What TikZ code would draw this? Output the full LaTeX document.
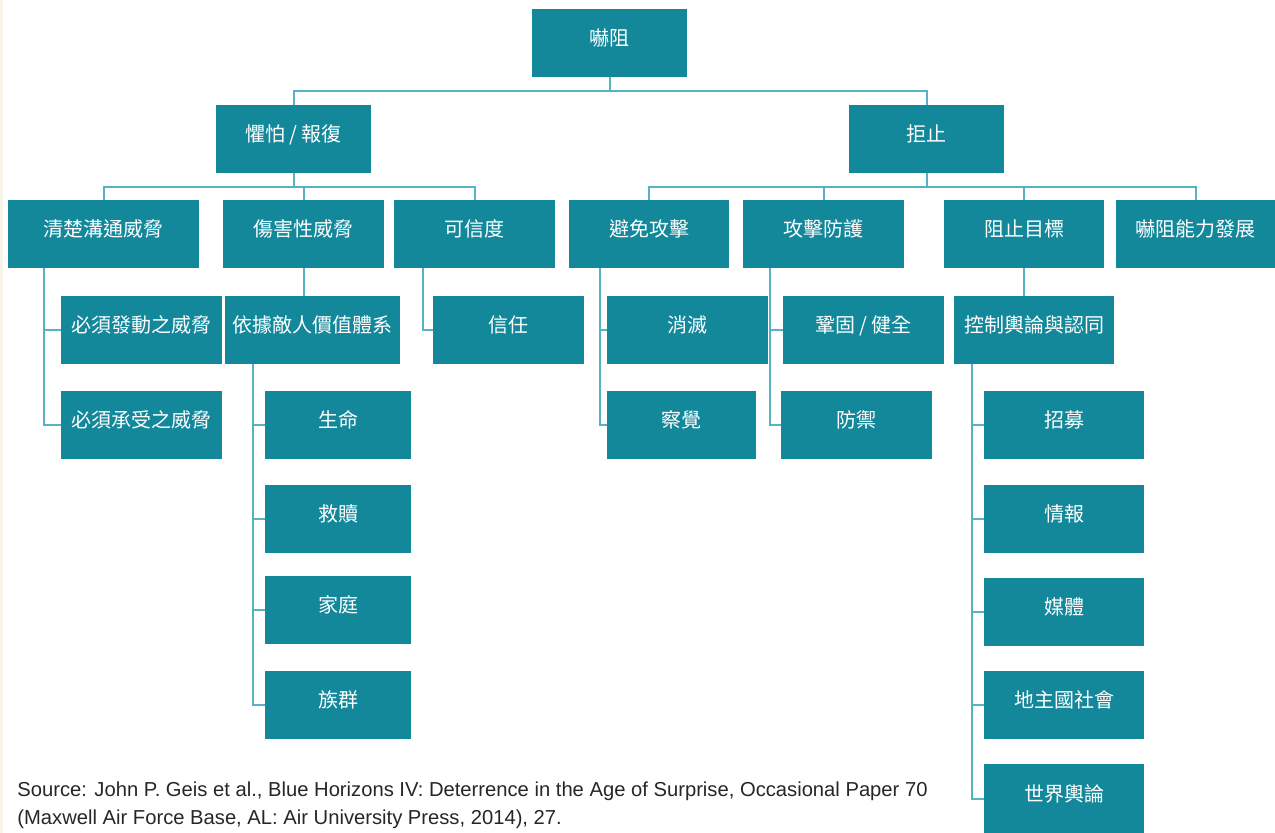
\documentclass[tikz,border=0pt]{standalone}
\usepackage{fontspec}
\setmainfont{Noto Sans CJK TC}
\newfontfamily\srcfont{Liberation Sans}
\definecolor{boxteal}{HTML}{13889B}
\definecolor{lineteal}{HTML}{55B3C4}
\definecolor{cream}{HTML}{F8F4EA}
\begin{document}
\begin{tikzpicture}[x=0.5pt,y=-0.5pt,
  box/.style={fill=boxteal, text=white, inner sep=0pt, font=\fontsize{10}{12}\selectfont, text height=8pt, text depth=5.5pt},
  sz/.style 2 args={minimum width={#1*0.5pt}, minimum height={#2*0.5pt}},
  conn/.style={draw=lineteal, line width=1pt}]
\useasboundingbox (0,0) rectangle (1275,833);
\fill[cream] (0,0) rectangle (3,833);
% level 0-1
\node[box, sz={155}{68}] (root) at (609.5,43) {嚇阻};
\node[box, sz={155}{68}] (fear) at (293.5,139) {懼怕 / 報復};
\node[box, sz={155}{68}] (deny) at (926.5,139) {拒止};
% level 2
\node[box, sz={191}{68}] (clear) at (103.5,234) {清楚溝通威脅};
\node[box, sz={161}{68}] (hurt) at (303.5,234) {傷害性威脅};
\node[box, sz={161}{68}] (cred) at (474.5,234) {可信度};
\node[box, sz={160}{68}] (avoid) at (649,234) {避免攻擊};
\node[box, sz={161}{68}] (prot) at (823.5,234) {攻擊防護};
\node[box, sz={160}{68}] (target) at (1024,234) {阻止目標};
\node[box, sz={159}{68}] (dev) at (1195.5,234) {嚇阻能力發展};
% level 3
\node[box, sz={161}{68}] (must) at (141.5,330) {必須發動之威脅};
\node[box, sz={161}{68}] (bear) at (141.5,425) {必須承受之威脅};
\node[box, sz={175}{68}] (value) at (312.5,330) {依據敵人價值體系};
\node[box, sz={146}{68}] (life) at (338,425) {生命};
\node[box, sz={146}{68}] (redeem) at (338,519) {救贖};
\node[box, sz={146}{68}] (family) at (338,610) {家庭};
\node[box, sz={146}{68}] (ethnic) at (338,705) {族群};
\node[box, sz={151}{68}] (trust) at (508.5,330) {信任};
\node[box, sz={161}{68}] (destroy) at (687.5,330) {消滅};
\node[box, sz={149}{68}] (detect) at (681.5,425) {察覺};
\node[box, sz={161}{68}] (harden) at (863.5,330) {鞏固 / 健全};
\node[box, sz={151}{68}] (defend) at (856.5,425) {防禦};
\node[box, sz={160}{68}] (opinion) at (1034,330) {控制輿論與認同};
\node[box, sz={160}{68}] (recruit) at (1064,425) {招募};
\node[box, sz={160}{68}] (intel) at (1064,519) {情報};
\node[box, sz={160}{68}] (media) at (1064,612) {媒體};
\node[box, sz={160}{68}] (host) at (1064,705) {地主國社會};
\node[box, sz={160}{69}] (world) at (1064,798.5) {世界輿論};
% connectors
\draw[conn] (root.south) -- ++(0,14) -| (fear.north);
\draw[conn] (root.south) -- ++(0,14) -| (deny.north);
\foreach \c in {clear,hurt,cred} \draw[conn] (fear.south) -- ++(0,14) -| (\c.north);
\foreach \c in {avoid,prot,target,dev} \draw[conn] (deny.south) -- ++(0,14) -| (\c.north);
\foreach \c in {must,bear} \draw[conn] ([xshift=18pt]clear.south west) |- (\c.west);
\draw[conn] (hurt.south) -- (hurt.south |- value.north);
\foreach \c in {life,redeem,family,ethnic} \draw[conn] ([xshift=14pt]value.south west) |- (\c.west);
\draw[conn] ([xshift=14.5pt]cred.south west) |- (trust.west);
\foreach \c in {destroy,detect} \draw[conn] ([xshift=15.5pt]avoid.south west) |- (\c.west);
\foreach \c in {harden,defend} \draw[conn] ([xshift=13.5pt]prot.south west) |- (\c.west);
\draw[conn] (target.south) -- (target.south |- opinion.north);
\foreach \c in {recruit,intel,media,host,world} \draw[conn] ([xshift=9pt]opinion.south west) |- (\c.west);
% source
\node[anchor=west, align=left, inner sep=0pt, text=black!85, font=\srcfont\fontsize{10.1}{14}\selectfont] (src) at (17,805)
  {Source: John P. Geis et al., Blue Horizons IV: Deterrence in the Age of Surprise, Occasional Paper 70\\(Maxwell Air Force Base, AL: Air University Press, 2014), 27.};
\end{tikzpicture}
\end{document}
